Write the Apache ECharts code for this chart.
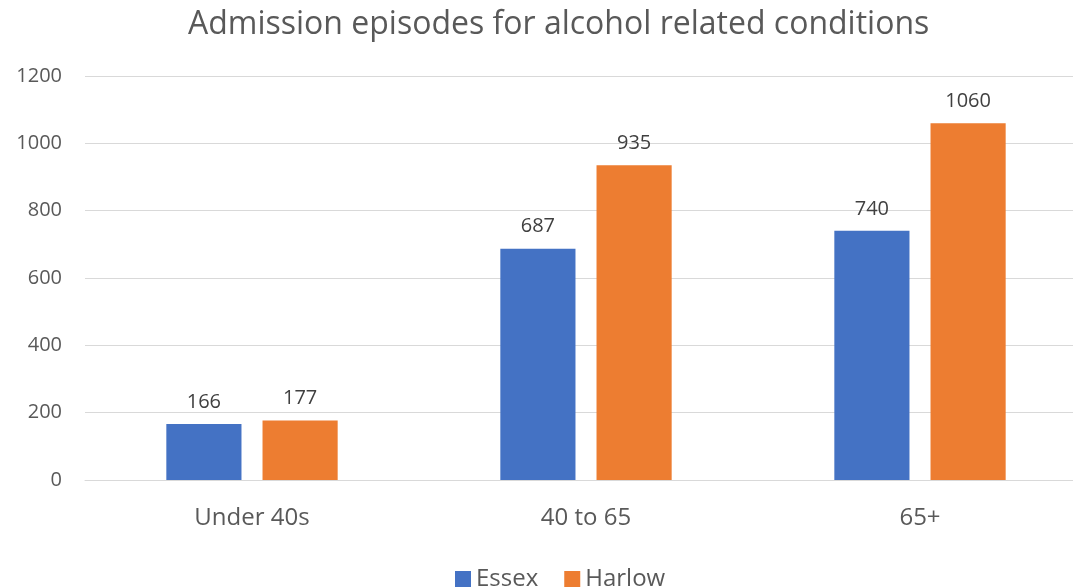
<!DOCTYPE html>
<html>
<head>
<meta charset="utf-8">
<script src="https://cdn.jsdelivr.net/npm/echarts@6/dist/echarts.min.js"></script>
<style>html,body{margin:0;padding:0;background:#fff;overflow:hidden;width:1073px;height:587px;}#c{width:1088px;height:587px;}</style>
</head>
<body>
<div id="c"></div>
<script>
var categories = ['Under 40s', '40 to 65', '65+'];
var essex = [166, 687, 740];
var harlow = [177, 935, 1060];
var yTicks = {min: 0, max: 1200, interval: 200};

var chart = echarts.init(document.getElementById('c'));
var font = 'Open Sans';
chart.setOption({
  animation: false,
  title: {
    text: 'Admission episodes for alcohol related conditions',
    left: 183, top: 4,
    textStyle: {fontFamily: font, fontSize: 32, fontWeight: 'normal', color: '#595959'}
  },
  legend: {
    left: 450, top: 562,
    itemWidth: 16, itemHeight: 16, itemGap: 26,
    icon: 'rect',
    textStyle: {fontFamily: font, fontSize: 24, color: '#595959'},
    data: ['Essex', 'Harlow']
  },
  grid: {left: 85, top: 76, width: 1002, height: 404, containLabel: false},
  xAxis: {
    type: 'category', data: categories,
    axisLine: {lineStyle: {color: '#d9d9d9'}},
    axisTick: {show: false},
    axisLabel: {fontFamily: font, fontSize: 24, color: '#595959', margin: 26}
  },
  yAxis: {
    type: 'value', min: yTicks.min, max: yTicks.max, interval: yTicks.interval,
    axisLine: {show: false}, axisTick: {show: false},
    axisLabel: {fontFamily: font, fontSize: 20, color: '#595959', margin: 23,
                formatter: function (v) { return String(v); }},
    splitLine: {lineStyle: {color: '#d9d9d9', width: 1}}
  },
  series: [
    {name: 'Essex', type: 'bar', data: essex, barWidth: '22.5%', barGap: '28%',
     itemStyle: {color: '#4472c4'},
     label: {show: true, position: 'top', distance: 12, fontFamily: font, fontSize: 20, color: '#404040'}},
    {name: 'Harlow', type: 'bar', data: harlow, barWidth: '22.5%', barGap: '28%',
     itemStyle: {color: '#ed7d31'},
     label: {show: true, position: 'top', distance: 12, fontFamily: font, fontSize: 20, color: '#404040'}}
  ]
});
</script>
</body>
</html>
